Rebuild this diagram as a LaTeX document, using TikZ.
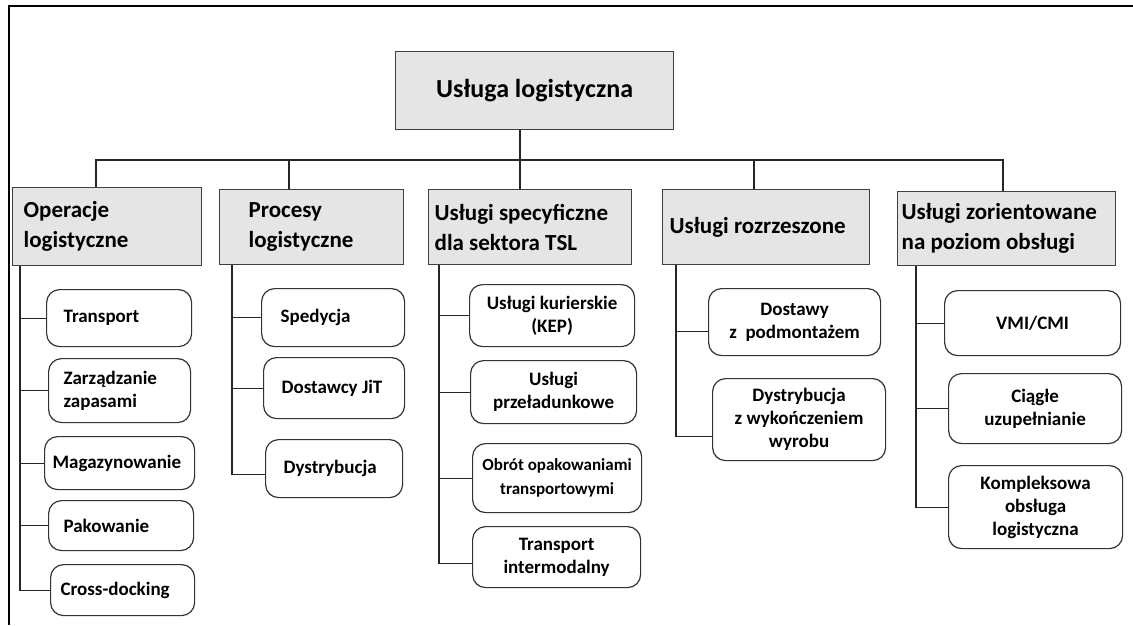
\documentclass[tikz,border=0pt]{standalone}
\usepackage{fontspec}
\setmainfont{Carlito}

\tikzset{
  frame/.style={line width=2pt},
  link/.style={line width=1.2pt, draw=black!85},
  rootbox/.style={draw=black!75, line width=1.3pt, fill=black!10, anchor=north west,
    font=\bfseries\fontsize{26}{30}\selectfont, inner sep=0pt},
  catbox/.style={draw=black!75, line width=1.3pt, fill=black!10, anchor=north west,
    font=\bfseries\fontsize{23}{30}\selectfont, align=flush left, inner ysep=0pt},
  leaf/.style={draw=black!80, line width=1.2pt, rounded corners=13pt, anchor=north west,
    font=\bfseries\fontsize{19}{23}\selectfont, align=flush center, inner sep=0pt},
  leafl/.style={leaf, align=flush left, inner xsep=17pt},
}

\begin{document}
\begin{tikzpicture}[x=1pt, y=-1pt]
        \useasboundingbox (0,0) rectangle (1133,625);
        \draw [frame] (9,625) -- (9,6) -- (1133,6);

        % top level
        \node [rootbox, minimum width=278pt, minimum height=78pt] (root) at (395,51) {Usługa logistyczna};
        \coordinate (bus) at (520,160);

        % categories
        \node [catbox, inner xsep=11pt, text width=167pt, minimum height=78pt] (c1) at (12,187) {Operacje\\logistyczne};
        \node [catbox, inner xsep=29pt, text width=126pt, minimum height=75pt] (c2) at (219,189) {Procesy\\logistyczne};
        \node [catbox, inner xsep=6pt, text width=191pt, minimum height=75pt] (c3) at (428,189) {Usługi specyficzne\\dla sektora TSL};
        \node [catbox, inner xsep=7pt, text width=193pt, minimum height=75pt] (c4) at (662,189) {Usługi rozrzeszone};
        \node [catbox, inner xsep=4pt, text width=210pt, minimum height=74pt] (c5) at (897,191) {Usługi zorientowane\\na poziom obsługi};

        \draw [link] (root.south -| bus) -- (c3.north -| bus);
        \draw [link] (c1.north -| 96,0) |- (bus);
        \draw [link] (c2.north -| 289,0) |- (bus);
        \draw [link] (c4.north -| 754,0) |- (bus);
        \draw [link] (c5.north -| 1003,0) |- (bus);

        % trunks
        \coordinate (k1) at (c1.south -| 20,0);
        \coordinate (k2) at (c2.south -| 232,0);
        \coordinate (k3) at (c3.south -| 439,0);
        \coordinate (k4) at (c4.south -| 676,0);
        \coordinate (k5) at (c5.south -| 916,0);

        % operacje
        \node [leafl, text width=111pt, minimum height=57pt] (t1) at (46,289) {Transport};
        \node [leafl, inner xsep=15pt, text width=112pt, minimum height=64pt] (t2) at (48,358) {Zarządzanie\\zapasami};
        \node [leafl, inner xsep=8pt, text width=134pt, minimum height=53pt] (t3) at (44,436) {Magazynowanie};
        \node [leafl, inner xsep=15pt, text width=115pt, minimum height=50pt] (t4) at (48,500) {Pakowanie};
        \node [leafl, inner xsep=10pt, text width=124pt, minimum height=51pt] (t5) at (50,564) {Cross-docking};
        \foreach \n in {t1,t2,t3,t4,t5}
          \draw [link] (k1) |- (\n.west);

        % procesy
        \node [leafl, inner xsep=19pt, text width=105pt, minimum height=58pt] (p1) at (261,288) {Spedycja};
        \node [leafl, inner xsep=18pt, text width=105pt, minimum height=61pt] (p2) at (263,357) {Dostawcy JiT};
        \node [leafl, inner xsep=18pt, text width=101pt, minimum height=58pt] (p3) at (265,439) {Dystrybucja};
        \draw [link] (k2) |- (p1.west);
        \draw [link] (k2) |- (p2.west);
        \draw [link] (k2) |- ([yshift=-6pt]p3.west);

        % TSL
        \node [leaf, minimum width=165pt, minimum height=62pt] (s1) at (469,284) {Usługi kurierskie\\(KEP)};
        \node [leaf, minimum width=166pt, minimum height=63pt] (s2) at (470,360) {Usługi\\przeładunkowe};
        \node [leaf, minimum width=169pt, minimum height=69pt, font=\bfseries\fontsize{17}{24}\selectfont] (s3) at (472,443) {Obrót opakowaniami\\transportowymi};
        \node [leaf, minimum width=168pt, minimum height=61pt] (s4) at (472,526) {Transport\\intermodalny};
        \draw [link] (k3) |- (s1.west);
        \draw [link] (k3) |- (s2.west);
        \draw [link] (k3) |- (s3.west);
        \draw [link] (k3) |- ([yshift=-6pt]s4.west);

        % rozszerzone
        \node [leaf, minimum width=172pt, minimum height=67pt] (r1) at (708,288) {Dostawy\\z\ \ podmontażem};
        \node [leaf, minimum width=173pt, minimum height=82pt] (r2) at (712,378) {Dystrybucja\\z wykończeniem\\wyrobu};
        \draw [link] (k4) |- ([yshift=-9pt]r1.west);
        \draw [link] (k4) |- ([yshift=-17pt]r2.west);

        % poziom obslugi
        \node [leaf, minimum width=176pt, minimum height=65pt] (o1) at (944,290) {VMI/CMI};
        \node [leaf, minimum width=173pt, minimum height=70pt] (o2) at (948,373) {Ciągłe\\uzupełnianie};
        \node [leaf, minimum width=174pt, minimum height=83pt] (o3) at (948,465) {Kompleksowa\\obsługa\\logistyczna};
        \foreach \n in {o1,o2,o3}
          \draw [link] (k5) |- (\n.west);
\end{tikzpicture}
\end{document}
